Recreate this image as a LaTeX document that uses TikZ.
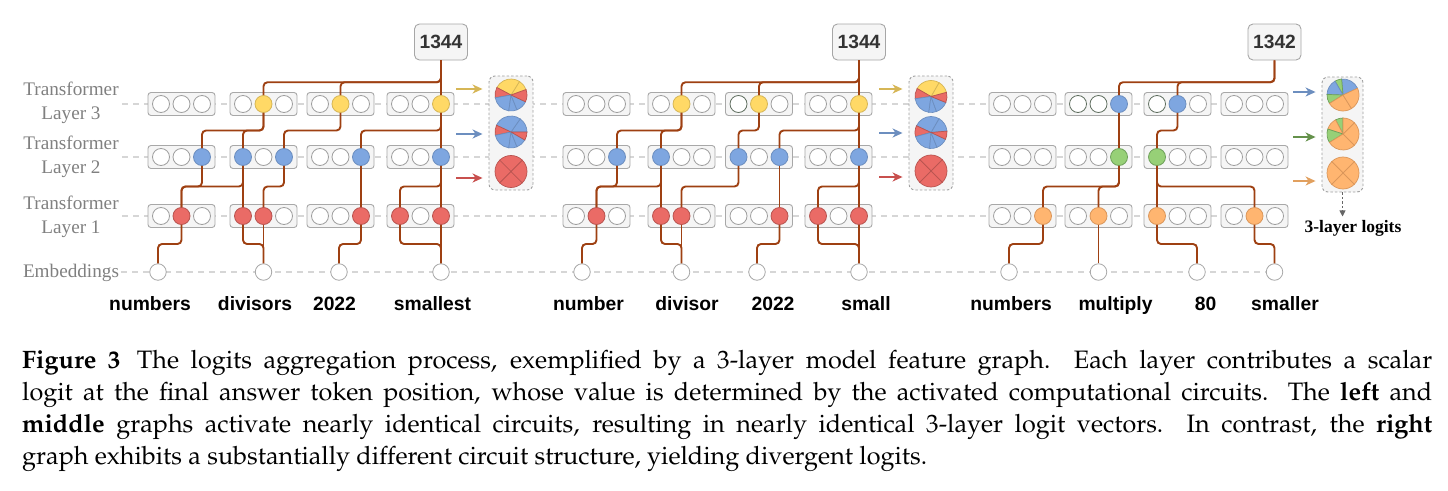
\documentclass[tikz,border=0pt]{standalone}
\usepackage[T1]{fontenc}
\usepackage{fontspec}
\setmainfont{Liberation Serif}
\setsansfont{Liberation Sans}
\usetikzlibrary{arrows.meta}
\usetikzlibrary{calc}

\definecolor{wirebrown}{RGB}{158,64,18}
\definecolor{boxfill}{RGB}{245,245,245}
\definecolor{boxline}{RGB}{168,168,168}
\definecolor{rowgray}{RGB}{214,214,214}
\definecolor{labgray}{RGB}{128,128,128}
\definecolor{dimline}{RGB}{95,110,95}
\definecolor{yfill}{RGB}{255,217,102}
\definecolor{yline}{RGB}{214,182,86}
\definecolor{bfill}{RGB}{126,166,224}
\definecolor{bline}{RGB}{108,142,191}
\definecolor{rfill}{RGB}{234,107,102}
\definecolor{rline}{RGB}{184,84,80}
\definecolor{gfill}{RGB}{151,208,119}
\definecolor{gline}{RGB}{110,160,90}
\definecolor{ofill}{RGB}{255,181,112}
\definecolor{oline}{RGB}{218,150,90}
\definecolor{rarrow}{RGB}{200,80,78}
\definecolor{garrow}{RGB}{100,145,75}
\definecolor{oarrow}{RGB}{225,160,95}

\newcommand{\logitpie}[2]{%
  \begin{scope}[shift={(#1)},yscale=-1]
    \foreach \sa/\sb/\sk in {#2}
      \filldraw[\sk] (0,0) -- (\sa:16) arc[start angle=\sa, end angle=\sb, radius=16] -- cycle;
  \end{scope}}

\begin{document}
\begin{tikzpicture}[x=1pt, y=-1pt,
  guide/.style={draw=rowgray, line width=1.3pt, dash pattern=on 6pt off 5pt},
  cellbox/.style={draw=boxline, fill=boxfill, rounded corners=3pt, minimum width=67pt, minimum height=23pt, line width=0.9pt},
  neuron/.style={circle, minimum size=17pt, inner sep=0pt, line width=0.8pt},
  idle/.style={draw=gray!75, fill=white},
  idle2/.style={draw=dimline, fill=white},
  hotY/.style={draw=yline, fill=yfill},
  hotB/.style={draw=bline, fill=bfill},
  hotR/.style={draw=rline, fill=rfill},
  hotG/.style={draw=gline, fill=gfill},
  hotO/.style={draw=oline, fill=ofill},
  emb/.style={circle, draw=gray!70, fill=white, minimum size=16.5pt, inner sep=0pt, line width=0.8pt},
  topbox/.style={draw=gray!70, fill=boxfill, rounded corners=5pt, minimum width=53pt, minimum height=36pt, line width=0.9pt, text=black!80, font=\sffamily\bfseries\fontsize{19.2}{22}\selectfont},
  word/.style={anchor=base, font=\sffamily\bfseries\fontsize{19.3}{22}\selectfont},
  laylabel/.style={align=center, text=labgray, font=\fontsize{19.2}{24}\selectfont},
  piebox/.style={draw=gray!75, fill=boxfill, dash pattern=on 2.5pt off 2pt, rounded corners=6pt, minimum width=44pt, minimum height=114pt, line width=0.9pt},
  sY/.style={fill=yfill, draw=yline, line width=0.7pt},
  sB/.style={fill=bfill, draw=bline, line width=0.7pt},
  sR/.style={fill=rfill, draw=rline, line width=0.7pt},
  sG/.style={fill=gfill, draw=gline, line width=0.7pt},
  sO/.style={fill=ofill, draw=oline, line width=0.7pt},
  wire/.style={every edge/.style={draw=wirebrown, line width=1.9pt}},
  elbow/.style={rounded corners=4pt, to path={(\tikztostart) |- ($(\tikztostart)!.5!(\tikztotarget)$) -| (\tikztotarget)}},
  logit/.style={line width=1.6pt, -{Stealth[length=10pt,width=9pt,inset=3pt]}, shorten >=6pt},
  captext/.style={anchor=north west, inner sep=0pt, text width=1410pt, align=justify, font=\fontencoding{T1}\fontfamily{ppl}\fontsize{25.2}{31.7}\selectfont}
]
\useasboundingbox (0,0) rectangle (1448,490);

% dashed row guides
\foreach \yy in {104,157,216}
  \draw[guide] (122,\yy) -- (1288,\yy);
\draw[guide] (121,272) -- (1275,272);

% layer names
\node[laylabel] (lab3) at (71,103) {Transformer\\Layer 3};
\node[laylabel] (lab2) at (71,157) {Transformer\\Layer 2};
\node[laylabel] (lab1) at (71,217) {Transformer\\Layer 1};
\node[laylabel, anchor=base] (labe) at (71,277.5) {Embeddings};

% logit boxes and pies
\node[piebox] (apie) at (511,133) {};
\node[piebox] (bpie) at (931,133) {};
\node[piebox, minimum width=41pt, minimum height=115pt] (cpie) at (1342.5,134.5) {};
\coordinate (ap3) at (511,95);
\coordinate (ap2) at (511,132);
\coordinate (ap1) at (511,171.5);
\coordinate (bp3) at (931,96.5);
\coordinate (bp2) at (931,132.5);
\coordinate (bp1) at (931,171);
\coordinate (cp3) at (1343,95);
\coordinate (cp2) at (1343,134);
\coordinate (cp1) at (1343,173);
\logitpie{ap3}{20/58/sY, 58/152/sY, 152/190/sR, 190/262/sB, 262/292/sB, 292/335/sB, 335/380/sR}
\logitpie{ap2}{0/55/sB, 55/155/sB, 155/192/sR, 192/262/sB, 262/292/sB, 292/330/sB, 330/360/sR}
\logitpie{ap1}{45/135/sR, 135/225/sR, 225/315/sR, 315/405/sR}
\logitpie{bp3}{15/60/sY, 60/150/sY, 150/188/sR, 188/262/sB, 262/290/sB, 290/338/sB, 338/375/sR}
\logitpie{bp2}{5/60/sB, 60/155/sB, 155/195/sR, 195/265/sB, 265/292/sB, 292/335/sB, 335/365/sR}
\logitpie{bp1}{45/135/sR, 135/225/sR, 225/315/sR, 315/405/sR}
\logitpie{cp3}{25/95/sB, 95/120/sG, 120/178/sB, 178/212/sG, 212/302/sO, 302/385/sO}
\logitpie{cp2}{90/118/sG, 118/162/sO, 162/212/sG, 212/315/sO, 315/405/sO, 405/450/sO}
\logitpie{cp1}{45/135/sO, 135/225/sO, 225/315/sO, 315/405/sO}

% feature boxes, one row per layer
\foreach \pn/\ly/\yy/\cells in {
  a/3/104/{181.5/idle/idle/idle, 263.5/idle/hotY/idle, 340.5/idle/hotY/idle, 420.5/idle/idle/hotY},
  a/2/157/{181.5/idle/idle/hotB, 263.5/hotB/idle/hotB, 340.5/idle/idle/hotB, 420.5/idle/idle/hotB},
  a/1/216/{181.5/idle/hotR/idle, 263.5/hotR/hotR/idle, 340.5/idle/idle/hotR, 420.5/hotR/idle/hotR},
  b/3/104/{596.5/idle/idle/idle, 681.5/idle/hotY/idle, 759/idle2/hotY/idle, 838.5/idle/idle/hotY},
  b/2/157/{596.5/idle/idle/hotB, 681.5/hotB/idle/idle, 759/hotB/idle/hotB, 838.5/idle/idle/hotB},
  b/1/216/{596.5/idle/hotR/idle, 681.5/hotR/hotR/idle, 759/idle/idle/hotR, 838.5/hotR/idle/hotR},
  c/3/104/{1022.5/idle/idle/idle, 1098.5/idle2/idle2/hotB, 1177.5/idle2/hotB/idle, 1254.5/idle/idle/idle},
  c/2/157/{1022.5/idle/idle/idle, 1098.5/idle/idle/hotG, 1177.5/hotG/idle/idle, 1254.5/idle/idle/idle},
  c/1/216/{1022.5/idle/idle/hotO, 1098.5/idle/hotO/idle, 1177.5/hotO/idle/idle, 1254.5/idle/hotO/idle}}{
  \foreach \cx/\sa/\sb/\sc [count=\bx] in \cells {
    \node[cellbox] (\pn\ly\bx) at (\cx,\yy) {};
    \node[neuron,\sa] (\pn\ly\bx1) at (\cx-20.5,\yy) {};
    \node[neuron,\sb] (\pn\ly\bx2) at (\cx,\yy) {};
    \node[neuron,\sc] (\pn\ly\bx3) at (\cx+20.5,\yy) {};
  }
}

% answer tokens
\node[topbox] (atop) at (441,42) {1344};
\node[topbox] (btop) at (859,42) {1344};
\node[topbox] (ctop) at (1274.5,42) {1342};

% embeddings
\node[emb] (ae1) at (158,272) {};
\node[emb] (ae2) at (263.5,272) {};
\node[emb] (ae3) at (339,272) {};
\node[emb] (ae4) at (441,272) {};
\node[emb] (be1) at (582,272) {};
\node[emb] (be2) at (681.5,272) {};
\node[emb] (be3) at (757,272) {};
\node[emb] (be4) at (859,272) {};
\node[emb] (ce1) at (1009,272) {};
\node[emb] (ce2) at (1098.5,272) {};
\node[emb] (ce3) at (1197,272) {};
\node[emb] (ce4) at (1274.5,272) {};

% input words
\node[word] (aw1) at (150,310.5) {numbers};
\node[word] (aw2) at (255,310.5) {divisors};
\node[word] (aw3) at (334.5,310.5) {2022};
\node[word] (aw4) at (432.5,310.5) {smallest};
\node[word] (bw1) at (588.5,310.5) {number};
\node[word] (bw2) at (687,310.5) {divisor};
\node[word] (bw3) at (773,310.5) {2022};
\node[word] (bw4) at (866,310.5) {small};
\node[word] (cw1) at (1011,310.5) {numbers};
\node[word] (cw2) at (1115.5,310.5) {multiply};
\node[word] (cw3) at (1205.5,310.5) {80};
\node[word] (cw4) at (1285,310.5) {smaller};

% circuits
\path[wire]
  (atop.south) edge[elbow] (a322) edge[elbow] (a332) edge (a343)
  (a322) edge[elbow] (a213) edge[elbow] (a221)
  (a332) edge[elbow] (a223)
  (a343) edge[elbow] (a233) edge (a243)
  (a213) edge[elbow] (a112)
  (a221) edge[elbow] (a112) edge (a121)
  (a223) edge[elbow] (a122)
  (a233) edge (a133)
  (a243) edge[elbow] (a141) edge (a143)
  (a112) edge[elbow] (ae1)
  (a121) edge[elbow] (ae2)
  (a122) edge (ae2)
  (a133) edge[elbow] (ae3)
  (a141) edge[elbow] (ae4)
  (a143) edge (ae4);
\path[wire]
  (btop.south) edge[elbow] (b322) edge[elbow] (b332) edge (b343)
  (b322) edge[elbow] (b213) edge[elbow] (b221)
  (b332) edge[elbow] (b231)
  (b343) edge[elbow] (b233) edge (b243)
  (b213) edge[elbow] (b112)
  (b221) edge[elbow] (b112) edge (b121)
  (b231) edge[elbow] (b122)
  (b233) edge (b133)
  (b243) edge[elbow] (b141) edge (b143)
  (b112) edge[elbow] (be1)
  (b121) edge[elbow] (be2)
  (b122) edge (be2)
  (b133) edge[elbow] (be3)
  (b141) edge[elbow] (be4)
  (b143) edge (be4);
\path[wire]
  (ctop.south) edge[elbow] (c323) edge[elbow] (c332)
  (c323) edge (c223)
  (c332) edge[elbow] (c231)
  (c223) edge[elbow] (c113) edge[elbow] (c122)
  (c231) edge (c131) edge[elbow] (c142)
  (c113) edge[elbow] (ce1)
  (c122) edge (ce2)
  (c131) edge[elbow] (ce3)
  (c142) edge[elbow] (ce4);

% layer logit arrows
\coordinate (aa3) at (456,89);
\coordinate (aa2) at (456,134);
\coordinate (aa1) at (456,178);
\coordinate (ba3) at (879,89);
\coordinate (ba2) at (879,133);
\coordinate (ba1) at (879,177);
\coordinate (ca3) at (1293,92);
\coordinate (ca2) at (1293,137);
\coordinate (ca1) at (1293,181);
\draw[logit, yline] (aa3) -- (aa3 -| apie.west);
\draw[logit, bline] (aa2) -- (aa2 -| apie.west);
\draw[logit, rarrow] (aa1) -- (aa1 -| apie.west);
\draw[logit, yline] (ba3) -- (ba3 -| bpie.west);
\draw[logit, bline] (ba2) -- (ba2 -| bpie.west);
\draw[logit, rarrow] (ba1) -- (ba1 -| bpie.west);
\draw[logit, bline] (ca3) -- (ca3 -| cpie.west);
\draw[logit, garrow] (ca2) -- (ca2 -| cpie.west);
\draw[logit, oarrow] (ca1) -- (ca1 -| cpie.west);

\node[font=\bfseries\fontsize{17.5}{20}\selectfont] (clog) at (1353,228) {3-layer logits};
\draw[gray!80!black, line width=0.9pt, dash pattern=on 2.5pt off 2pt, -{Triangle[length=6pt,width=6pt]}] (cpie.south) -- (cpie.south |- clog.north);

% caption
\node[captext] (cap) at (22,350.5) {\hyphenpenalty=10000 \textbf{Figure 3}\hspace{.65em}The logits aggregation process, exemplified by a 3-layer model feature graph. Each layer contributes a scalar\linebreak logit at the final answer token position, whose value is determined by the activated computational circuits. The \textbf{left} and\linebreak \textbf{middle} graphs activate nearly identical circuits, resulting in nearly identical 3-layer logit vectors. In contrast, the \textbf{right}\linebreak graph exhibits a substantially different circuit structure, yielding divergent logits.};
\end{tikzpicture}
\end{document}
